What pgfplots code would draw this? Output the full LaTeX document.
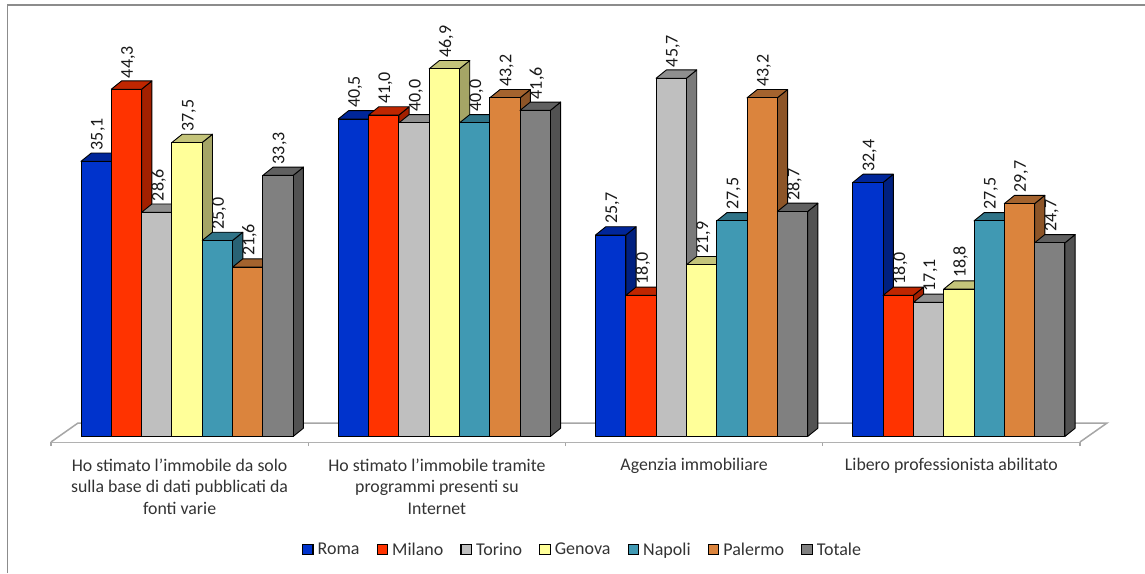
\documentclass[border=0pt]{standalone}
\usepackage{pgfplots}
\pgfplotsset{compat=1.18}
\usepackage{fontspec}
\setmainfont{Carlito}
\definecolor{romaF}{HTML}{0033CC}\definecolor{romaT}{HTML}{00269A}\definecolor{romaS}{HTML}{002080}
\definecolor{milanoF}{HTML}{FF3300}\definecolor{milanoT}{HTML}{BF2600}\definecolor{milanoS}{HTML}{A32000}
\definecolor{torinoF}{HTML}{BFBFBF}\definecolor{torinoT}{HTML}{8F8F8F}\definecolor{torinoS}{HTML}{7A7A7A}
\definecolor{genovaF}{HTML}{FFFF99}\definecolor{genovaT}{HTML}{C4C47A}\definecolor{genovaS}{HTML}{A5A566}
\definecolor{napoliF}{HTML}{4099B3}\definecolor{napoliT}{HTML}{2F7387}\definecolor{napoliS}{HTML}{296274}
\definecolor{palermoF}{HTML}{DB843D}\definecolor{palermoT}{HTML}{A4632E}\definecolor{palermoS}{HTML}{8D5528}
\definecolor{totaleF}{HTML}{808080}\definecolor{totaleT}{HTML}{606060}\definecolor{totaleS}{HTML}{525252}
\definecolor{floorline}{HTML}{A6A6A6}
\definecolor{frameline}{HTML}{8C8C8C}

% One 3D column: left edge, value, colour stem. Side and top are offset by the depth.
\newcommand{\column}[3]{%
  \pgfmathsetmacro{\xa}{#1}%
  \pgfmathsetmacro{\xb}{#1+30.3}%
  \pgfmathsetmacro{\xc}{#1+40.6}%
  \pgfmathsetmacro{\xd}{#1+10.3}%
  \pgfmathsetmacro{\yt}{#2+1.06}%
  \edef\faces{%
    \noexpand\addplot[forget plot,fill=#3S,draw=black,line width=0.9pt,line join=round]
      coordinates {(\xb,0)(\xc,1.06)(\xc,\yt)(\xb,#2)} --cycle;
    \noexpand\addplot[forget plot,fill=#3T,draw=black,line width=0.9pt,line join=round]
      coordinates {(\xa,#2)(\xd,\yt)(\xc,\yt)(\xb,#2)} --cycle;
    \noexpand\addplot[forget plot,fill=#3F,draw=black,line width=0.9pt,line join=round]
      coordinates {(\xa,0)(\xb,0)(\xb,#2)(\xa,#2)} --cycle;
  }\faces
}

\begin{document}
\begin{tikzpicture}[x=1pt,y=1pt]
\path[use as bounding box] (0,0) rectangle (1145,573);
\draw[frameline,line width=1.3pt] (7.5,0) -- (7.5,568) -- (1145,568);
\begin{axis}[
  at={(51pt,131pt)},anchor=south west,
  scale only axis,
  width=1029pt,height=442pt,
  xmin=51,xmax=1080,
  ymin=-0.7015,ymax=55.68,
  clip=false,
  axis x line=bottom,
  axis y line=none,
  x axis line style={-,floorline,line width=1.5pt},
  xtick={179.6,436.9,694.1,951.4},
  xticklabels={
    {Ho stimato l’immobile da solo\\sulla base di dati pubblicati da\\fonti varie},
    {Ho stimato l’immobile tramite\\programmi presenti su\\Internet},
    {Agenzia immobiliare},
    {Libero professionista abilitato}},
  major tick length=0pt,
  minor xtick={51,308.25,565.5,822.75,1080},
  minor tick length=4pt,
  tick align=outside,
  minor tick style={floorline,line width=1.2pt},
  xticklabel style={align=center,anchor=north,font=\fontsize{17.8}{21.5}\selectfont,text=black!80,yshift=-13pt},
  legend style={at={(0.5165,-0.244)},anchor=center,draw=none,fill=none,legend columns=-1,
    font=\fontsize{18}{20}\selectfont,text=black!80,
    /tikz/every even column/.append style={column sep=15pt},
    /tikz/every odd column/.append style={column sep=2pt}},
  legend image code/.code={\draw[#1,line width=1.2pt] (0pt,-5pt) rectangle (10.5pt,5.5pt);},
]
% Floor of the plot area
\addplot[forget plot,fill=white,draw=floorline,line width=1.5pt]
  coordinates {(51,-0.7015)(78,1.72)(1107,1.72)(1080,-0.7015)};

\addlegendimage{fill=romaF,draw=black}\addlegendentry{Roma}
\addlegendimage{fill=milanoF,draw=black}\addlegendentry{Milano}
\addlegendimage{fill=torinoF,draw=black}\addlegendentry{Torino}
\addlegendimage{fill=genovaF,draw=black}\addlegendentry{Genova}
\addlegendimage{fill=napoliF,draw=black}\addlegendentry{Napoli}
\addlegendimage{fill=palermoF,draw=black}\addlegendentry{Palermo}
\addlegendimage{fill=totaleF,draw=black}\addlegendentry{Totale}

% Ho stimato da solo
\column{81}{35.1}{roma}\column{111.3}{44.3}{milano}\column{141.6}{28.6}{torino}\column{171.9}{37.5}{genova}\column{202.2}{25.0}{napoli}\column{232.5}{21.6}{palermo}\column{262.8}{33.3}{totale}
% Ho stimato tramite programmi
\column{338.25}{40.5}{roma}\column{368.55}{41.0}{milano}\column{398.85}{40.0}{torino}\column{429.15}{46.9}{genova}\column{459.45}{40.0}{napoli}\column{489.75}{43.2}{palermo}\column{520.05}{41.6}{totale}
% Agenzia immobiliare
\column{595.5}{25.7}{roma}\column{625.8}{18.0}{milano}\column{656.1}{45.7}{torino}\column{686.4}{21.9}{genova}\column{716.7}{27.5}{napoli}\column{747}{43.2}{palermo}\column{777.3}{28.7}{totale}
% Libero professionista
\column{852.75}{32.4}{roma}\column{883.05}{18.0}{milano}\column{913.35}{17.1}{torino}\column{943.65}{18.8}{genova}\column{973.95}{27.5}{napoli}\column{1004.25}{29.7}{palermo}\column{1034.55}{24.7}{totale}

% Value labels above each column
\addplot[only marks,mark=none,point meta=y,
  nodes near coords={\pgfmathprintnumber[fixed,fixed zerofill,precision=1,use comma,assume math mode=true]{\pgfplotspointmeta}},
  nodes near coords style={rotate=90,anchor=west,inner sep=0pt,xshift=11pt,yshift=-1pt,
    font=\fontsize{18}{20}\selectfont,text=black!90}]
 table {
97 35.1
127.3 44.3
157.6 28.6
187.9 37.5
218.2 25.0
248.5 21.6
278.8 33.3
354.25 40.5
384.55 41.0
414.85 40.0
445.15 46.9
475.45 40.0
505.75 43.2
536.05 41.6
611.5 25.7
641.8 18.0
672.1 45.7
702.4 21.9
732.7 27.5
763 43.2
793.3 28.7
868.75 32.4
899.05 18.0
929.35 17.1
959.65 18.8
989.95 27.5
1020.25 29.7
1050.55 24.7
};
\end{axis}
\end{tikzpicture}
\end{document}
